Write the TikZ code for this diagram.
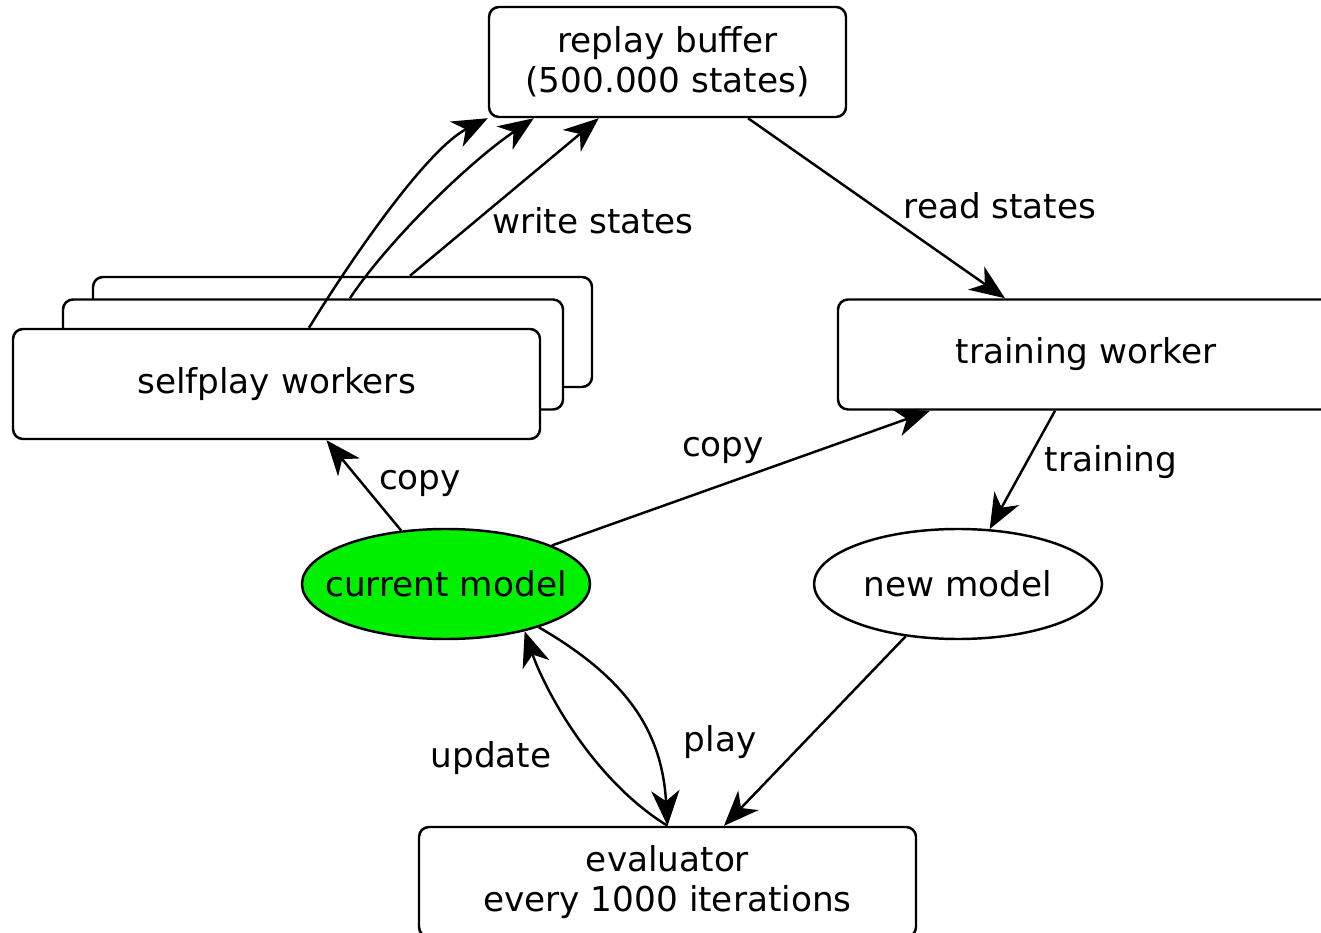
\documentclass[tikz,border=0pt]{standalone}
\usepackage{fontspec}
\setmainfont{DejaVu Sans}
\usetikzlibrary{arrows.meta, positioning, calc, shapes}
\definecolor{modelgreen}{RGB}{0,240,0}

\tikzset{
  box/.style={draw, fill=white, rounded corners=0.2cm, line width=1.4pt, minimum height=2.2cm, align=center},
  model/.style={draw, ellipse, line width=1.4pt, minimum width=5.76cm, minimum height=2.2cm, inner sep=0pt},
  flow/.style={-{Stealth[length=20pt, width=16pt, inset=6pt]}, line width=1.4pt},
}

\begin{document}
\begin{tikzpicture}[font=\fontsize{19.5}{23}\selectfont]
  \useasboundingbox (0,0) rectangle (26.42,-18.66);

  % storage and trainer
  \node[box, minimum width=7.14cm] (rb) at (13.35,-1.24) {replay buffer\\(500.000 states)};
  \node[box, minimum width=9.92cm] (tw) at (21.72,-7.09) {training worker};

  % stack of selfplay workers, back to front
  \node[box, minimum width=9.98cm] (sp3) at (6.85,-6.64) {};
  \node[box, minimum width=10.0cm] (sp2) at (6.26,-7.09) {};
  \node[box, minimum width=10.54cm] (sp1) at (5.53,-7.68) {selfplay workers};

  % models
  \node[model, fill=modelgreen, label=center:current model] (cm) at (8.92,-11.68) {};
  \node[model, label=center:new model] (nm) at (19.16,-11.68) {};

  \node[box, minimum width=9.94cm] (ev) at (13.35,-17.64) {evaluator\\every 1000 iterations};

  % selfplay -> buffer
  \draw[flow] ([xshift=0.65cm]sp1.north) .. controls (7.2,-4.9) and (8.6,-2.95) .. (rb.south west);
  \draw[flow] ([xshift=0.74cm]sp2.north) .. controls (7.7,-4.9) and (9.3,-3.3) .. ([xshift=0.92cm]rb.south west);
  \draw[flow] ([xshift=1.35cm]sp3.north) -- ([xshift=2.22cm]rb.south west);
  \node (write) at (11.86,-4.42) {write states};

  % buffer -> trainer -> new model
  \draw[flow] ([xshift=1.61cm]rb.south) -- ([xshift=-1.62cm]tw.north);
  \node (read) at (20.0,-4.12) {read states};
  \draw[flow] ([xshift=-0.62cm]tw.south) -- (nm.60);
  \node (train) at (22.22,-9.24) {training};

  % current model is copied to the workers
  \draw[flow] (cm.130) -- ([xshift=1.0cm]sp1.south);
  \node (copy1) at (8.4,-9.66) {copy};
  \draw[flow] (cm.20) -- ([xshift=-3.12cm]tw.south);
  \node (copy2) at (14.46,-9.0) {copy};

  % evaluation loop
  \draw[flow] (nm.225) -- ([xshift=1.13cm]ev.north);
  \draw[flow] (cm.-25) .. controls (12.6,-13.6) and (13.24,-14.68) .. (ev.north);
  \node (play) at (14.4,-14.84) {play};
  \draw[flow] (ev.north) .. controls (11.8,-15.56) and (10.86,-13.7) .. (cm.-31);
  \node (upd) at (9.82,-15.16) {update};
\end{tikzpicture}
\end{document}
